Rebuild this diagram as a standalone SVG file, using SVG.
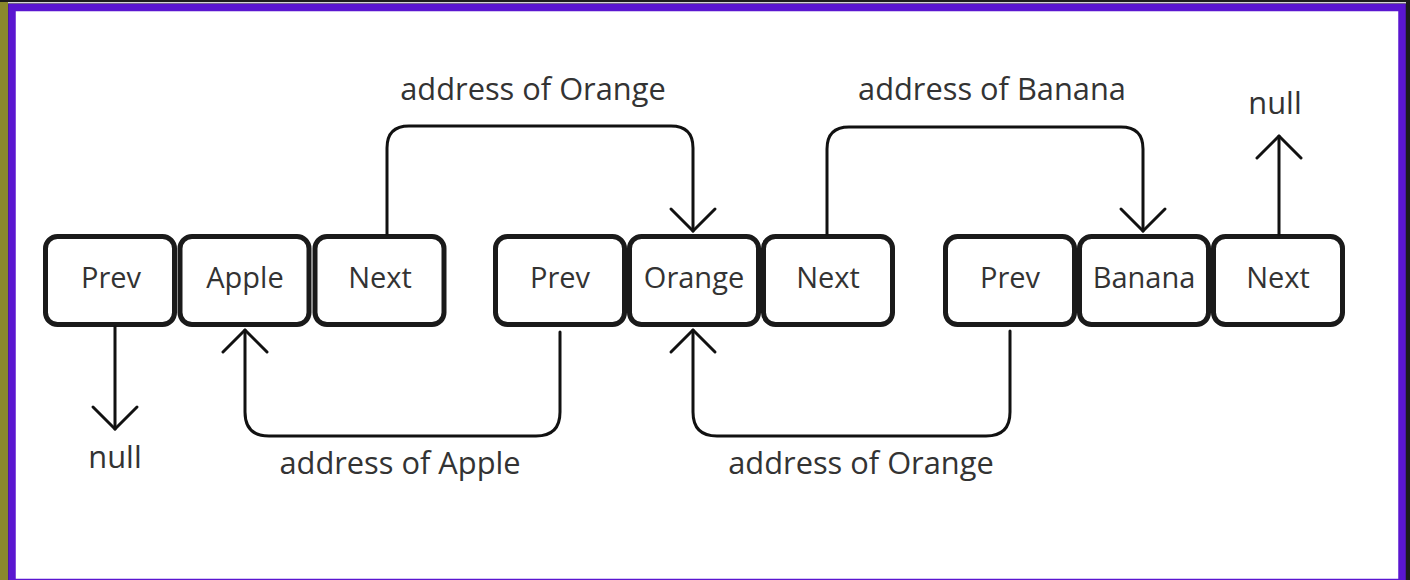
<svg xmlns="http://www.w3.org/2000/svg" width="1410" height="580" viewBox="0 0 1410 580">
  <style>
    .box { fill: #ffffff; stroke: #1a1a1a; stroke-width: 5; }
    .lbl { font-family: "Open Sans", "Noto Sans", sans-serif; font-size: 29px; fill: #333333; text-anchor: middle; }
    .big { font-size: 30.8px; }
    .con { fill: none; stroke: #111111; stroke-width: 3; stroke-linecap: round; stroke-linejoin: round; }
  </style>
  <rect x="0" y="0" width="1410" height="580" fill="#1c1c1c"/>
  <rect x="0" y="2" width="8" height="578" fill="#8a892c"/>
  <rect x="8" y="2" width="1398" height="1.5" fill="#d8d8d8"/>
  <rect x="12" y="7.5" width="1390" height="575" fill="#ffffff" stroke="#5a16d0" stroke-width="7.5"/>

  <g id="node-apple">
    <g id="apple-prev"><rect class="box" x="45.5" y="236.5" width="129" height="88" rx="12"/><text class="lbl" x="111" y="288">Prev</text></g>
    <g id="apple-data"><rect class="box" x="180" y="236.5" width="129" height="88" rx="12"/><text class="lbl" x="245" y="288">Apple</text></g>
    <g id="apple-next"><rect class="box" x="315" y="236.5" width="129" height="88" rx="12"/><text class="lbl" x="380" y="288">Next</text></g>
  </g>
  <g id="node-orange">
    <g id="orange-prev"><rect class="box" x="495.5" y="236.5" width="129" height="88" rx="12"/><text class="lbl" x="560" y="288">Prev</text></g>
    <g id="orange-data"><rect class="box" x="629.5" y="236.5" width="129" height="88" rx="12"/><text class="lbl" x="694" y="288">Orange</text></g>
    <g id="orange-next"><rect class="box" x="763.5" y="236.5" width="129" height="88" rx="12"/><text class="lbl" x="828" y="288">Next</text></g>
  </g>
  <g id="node-banana">
    <g id="banana-prev"><rect class="box" x="945.5" y="236.5" width="129" height="88" rx="12"/><text class="lbl" x="1010" y="288">Prev</text></g>
    <g id="banana-data"><rect class="box" x="1079.5" y="236.5" width="129" height="88" rx="12"/><text class="lbl" x="1144" y="288">Banana</text></g>
    <g id="banana-next"><rect class="box" x="1213.5" y="236.5" width="129" height="88" rx="12"/><text class="lbl" x="1278" y="288">Next</text></g>
  </g>

  <g id="connectors">
    <path class="con" d="M387,234 V148 Q387,126 409,126 H671 Q693,126 693,148 V231"/>
    <path class="con" d="M671,209 L693,231 L715,209"/>
    <path class="con" d="M827,234 V149 Q827,127 849,127 H1121 Q1143,127 1143,149 V231"/>
    <path class="con" d="M1121,209 L1143,231 L1165,209"/>
    <path class="con" d="M1279,234 V136"/>
    <path class="con" d="M1257,158 L1279,136 L1301,158"/>
    <path class="con" d="M115,327 V429"/>
    <path class="con" d="M93,407 L115,429 L137,407"/>
    <path class="con" d="M560,332 V412 Q560,436 536,436 H269 Q245,436 245,412 V330"/>
    <path class="con" d="M223,352 L245,330 L267,352"/>
    <path class="con" d="M1010,331 V412 Q1010,436 986,436 H717 Q693,436 693,412 V330"/>
    <path class="con" d="M671,352 L693,330 L715,352"/>
  </g>

  <g id="labels">
    <text class="lbl big" x="533" y="100">address of Orange</text>
    <text class="lbl big" x="992" y="100">address of Banana</text>
    <text class="lbl big" x="1275" y="114">null</text>
    <text class="lbl big" x="115" y="468">null</text>
    <text class="lbl big" x="400" y="474">address of Apple</text>
    <text class="lbl big" x="861" y="474">address of Orange</text>
  </g>
</svg>
